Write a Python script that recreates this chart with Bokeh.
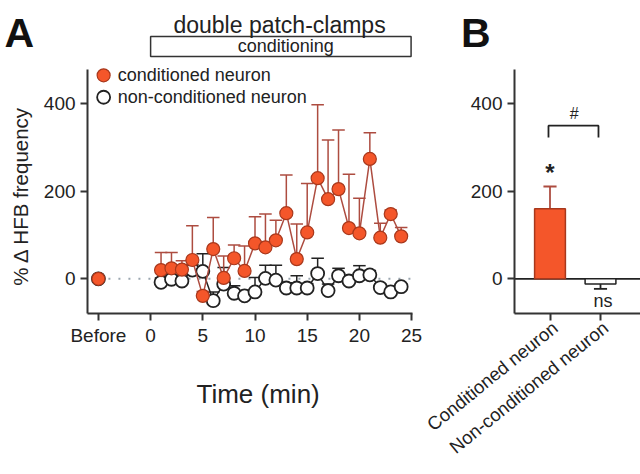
import math
from bokeh.plotting import figure
from bokeh.models import FixedTicker, Range1d, ColumnDataSource, LinearAxis
from bokeh.core.properties import value
from bokeh.embed import file_html
from bokeh.resources import INLINE

# ---------------- data ----------------
minutes = list(range(1, 25))
cond_mean = [20, 24, 21, 43, -39, 68, 2, 47, 18, 81, 72, 88, 150, 45, 106, 230, 182, 205, 116, 104, 274, 94, 148, 97]
cond_err = [40, 36, 20, 78, 10, 72, 50, 30, 57, 61, 76, 46, 87, 80, 112, 168, 135, 135, 123, 80, 60, 33, 9, 20]
non_mean = [-8, -1, -5, 20, 17, -50, -12, -33, -39, -30, 1, -3, -21, -21, -21, 12, -27, 7, -5, 7, 9, -20, -30, -18]
non_err = [10, 8, 8, 12, 40, 20, 38, 17, 12, 33, 30, 34, 12, 28, 10, 35, 15, 17, 10, 23, 10, 8, 6, 6]
before_x = -5
before_cond = 0
before_non = 0
x_ticks = [-5, 0, 5, 10, 15, 20, 25]
x_tick_labels = ["Before", "0", "5", "10", "15", "20", "25"]
y_ticks = [0, 200, 400]
cond_start, cond_end = 0, 25

groups = ["Conditioned neuron", "Non-conditioned neuron"]
group_pos = [1, 2]
bar_mean = [160, -12]
bar_err = [51, 11]

FONT = value("Liberation Sans")
ORANGE = "#F4562A"
ORANGE_EDGE = "#A8381C"
BROWN = "#AD4C40"
AXC = "#333333"
TXT = "#222222"

# panel extents (data units)
A_X0, A_X1 = -6.04, 25.09
B_X0, B_X1 = 0.297, 2.792
Y_BOT, Y_AXTOP = -79.3, 478

p = figure(width=640, height=474, x_range=Range1d(-14.378, 46.925), y_range=Range1d(-447.3, 636.1),
           output_backend="svg", toolbar_location=None,
           min_border_left=0, min_border_right=0, min_border_top=0, min_border_bottom=0,
           x_axis_location=None, y_axis_location=None)
p.extra_x_ranges = {"B": Range1d(-9.881, 2.792)}
p.xgrid.visible = False
p.ygrid.visible = False
p.outline_line_color = None

def style(ax, size="19px"):
    ax.axis_line_width = 2
    ax.axis_line_color = AXC
    ax.major_tick_line_width = 2
    ax.major_tick_line_color = AXC
    ax.major_tick_out = 7
    ax.major_tick_in = 0
    ax.minor_tick_line_color = None
    ax.major_label_text_font = "Liberation Sans"
    ax.major_label_text_font_size = size
    ax.major_label_text_color = TXT

# ---- panel A axes ----
axA_x = LinearAxis(fixed_location=Y_BOT, bounds=(A_X0, A_X1), ticker=FixedTicker(ticks=x_ticks),
                   major_label_overrides={t: l for t, l in zip(x_ticks, x_tick_labels)})
style(axA_x)
p.add_layout(axA_x, "below")
axA_y = LinearAxis(fixed_location=A_X0, bounds=(Y_BOT, Y_AXTOP), ticker=FixedTicker(ticks=y_ticks))
style(axA_y)
p.add_layout(axA_y, "left")

# ---- panel B axes ----
axB_x = LinearAxis(x_range_name="B", fixed_location=Y_BOT, bounds=(B_X0, B_X1),
                   ticker=FixedTicker(ticks=group_pos),
                   major_label_overrides={g: "" for g in group_pos})
style(axB_x)
p.add_layout(axB_x, "below")
axB_y = LinearAxis(x_range_name="B", fixed_location=B_X0, bounds=(Y_BOT, Y_AXTOP),
                   ticker=FixedTicker(ticks=y_ticks))
style(axB_y)
p.add_layout(axB_y, "left")

# ---- panel A content ----
p.text([-12.45], [190], text=["% \u0394 HFB frequency"], angle=math.pi / 2, text_align="center",
       text_baseline="middle", text_font=FONT, text_font_size="20.5px", text_color=TXT)
p.text([10.3], [-264], text=["Time (min)"], text_align="center", text_baseline="middle",
       text_font=FONT, text_font_size="26px", text_color=TXT)

p.line([before_x, x_ticks[-1]], [0, 0], line_color="#9aa6b0", line_width=2, line_dash="2 8")

cap = 0.6
non_top = [m + e for m, e in zip(non_mean, non_err)]
cond_top = [m + e for m, e in zip(cond_mean, cond_err)]
srcN = ColumnDataSource(dict(x=minutes, y=non_mean, top=non_top,
                             x0=[t - cap for t in minutes], x1=[t + cap for t in minutes]))
srcC = ColumnDataSource(dict(x=minutes, y=cond_mean, top=cond_top,
                             x0=[t - cap for t in minutes], x1=[t + cap for t in minutes]))

p.segment(x0="x", y0="y", x1="x", y1="top", source=srcN, line_color=TXT, line_width=1.5)
p.segment(x0="x0", y0="top", x1="x1", y1="top", source=srcN, line_color=TXT, line_width=1.5)
p.line("x", "y", source=srcN, line_color=TXT, line_width=1.5)
p.scatter("x", "y", source=srcN, size=13, fill_color="white", line_color=TXT, line_width=1.8)
p.scatter([before_x], [before_non], size=13, fill_color="white", line_color=TXT, line_width=1.8)

p.segment(x0="x", y0="y", x1="x", y1="top", source=srcC, line_color=BROWN, line_width=1.5)
p.segment(x0="x0", y0="top", x1="x1", y1="top", source=srcC, line_color=BROWN, line_width=1.5)
p.line("x", "y", source=srcC, line_color=BROWN, line_width=1.5)
p.scatter("x", "y", source=srcC, size=13, fill_color=ORANGE, line_color=ORANGE_EDGE, line_width=1.2)
p.scatter([before_x], [before_cond], size=13, fill_color=ORANGE, line_color=ORANGE_EDGE, line_width=1.2)

# legend (manual)
p.scatter([-4.5], [465], size=13, fill_color=ORANGE, line_color=ORANGE_EDGE, line_width=1.2)
p.scatter([-4.5], [415], size=13, fill_color="white", line_color=TXT, line_width=1.8)
p.text([-3.15], [465], text=["conditioned neuron"], text_font=FONT, text_font_size="18px",
       text_baseline="middle", text_color=TXT)
p.text([-3.15], [415], text=["non-conditioned neuron"], text_font=FONT, text_font_size="18px",
       text_baseline="middle", text_color=TXT)

# top annotations
p.quad(left=[cond_start], right=[cond_end - 0.05], bottom=[508], top=[554], fill_color="white",
       line_color="#333333", line_width=1.5)
p.text([(cond_start + cond_end) / 2 + 0.45], [531], text=["conditioning"], text_font=FONT,
       text_font_size="18px", text_align="center", text_baseline="middle", text_color=TXT)
p.text([12.35], [581], text=["double patch-clamps"], text_font=FONT, text_font_size="23px",
       text_align="center", text_baseline="alphabetic", text_color=TXT)
p.text([-14.0], [561], text=["A"], text_font=FONT, text_font_size="41px", text_font_style="bold",
       text_baseline="alphabetic", text_color="#111111")

# ---- panel B content ----
p.line([B_X0, B_X1], [0, 0], line_color=TXT, line_width=1.8, x_range_name="B")

bw = 0.61
bcap = 0.13
bar_end = [m + (e if m >= 0 else -e) for m, e in zip(bar_mean, bar_err)]
srcB = ColumnDataSource(dict(x=group_pos, top=bar_mean, end=bar_end,
                             fill=[ORANGE, "white"], edge=[ORANGE_EDGE, TXT], ec=[BROWN, TXT],
                             x0=[q - bcap for q in group_pos], x1=[q + bcap for q in group_pos]))
p.segment(x0="x", y0="top", x1="x", y1="end", source=srcB, line_color="ec", line_width=1.8, x_range_name="B")
p.segment(x0="x0", y0="end", x1="x1", y1="end", source=srcB, line_color="ec", line_width=1.8, x_range_name="B")
p.vbar(x="x", top="top", bottom=0, width=bw, source=srcB, fill_color="fill", line_color="edge",
       line_width=1.5, x_range_name="B")

p.text([q + 0.1 for q in group_pos], [-106, -106], text=groups, angle=0.68, text_align="right",
       text_baseline="middle", text_font=FONT, text_font_size="18.5px", text_color=TXT, x_range_name="B")

p.multi_line(xs=[[group_pos[0] - 0.03, group_pos[0] - 0.03, group_pos[1] - 0.04, group_pos[1] - 0.04]],
             ys=[[323, 350, 350, 323]], line_color=TXT, line_width=1.8, x_range_name="B")
p.text([1.48], [378], text=["#"], text_font=FONT, text_font_size="16px", text_align="center",
       text_baseline="middle", text_color=TXT, x_range_name="B")
p.text([group_pos[0]], [243], text=["*"], text_font=FONT, text_font_size="24px", text_font_style="bold",
       text_align="center", text_baseline="middle", text_color=TXT, x_range_name="B")
p.text([group_pos[1] + 0.05], [-50], text=["ns"], text_font=FONT, text_font_size="18px", text_align="center",
       text_baseline="middle", text_color=TXT, x_range_name="B")
p.text([-0.76], [561], text=["B"], text_font=FONT, text_font_size="41px", text_font_style="bold",
       text_baseline="alphabetic", text_color="#111111", x_range_name="B")

open("out.html", "w").write(file_html(p, INLINE))
